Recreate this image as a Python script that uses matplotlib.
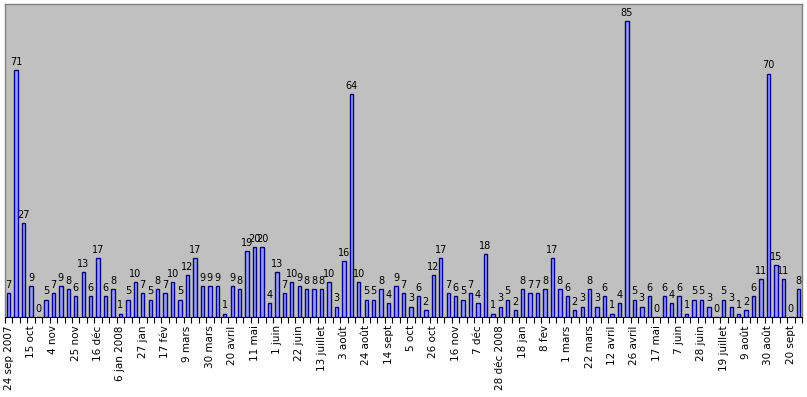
import numpy as np
import matplotlib
matplotlib.use('Agg')
import matplotlib.pyplot as plt

# weekly counts, 24 sep 2007 -> sept 2009
values = [7, 71, 27, 9, 0, 5, 7, 9, 8, 6, 13, 6, 17, 6, 8, 1, 5, 10, 7, 5,
          8, 7, 10, 5, 12, 17, 9, 9, 9, 1, 9, 8, 19, 20, 20, 4, 13, 7, 10, 9,
          8, 8, 8, 10, 3, 16, 64, 10, 5, 5, 8, 4, 9, 7, 3, 6, 2, 12, 17, 7,
          6, 5, 7, 4, 18, 1, 3, 5, 2, 8, 7, 7, 8, 17, 8, 6, 2, 3, 8, 3,
          6, 1, 4, 85, 5, 3, 6, 0, 6, 4, 6, 1, 5, 5, 3, 0, 5, 3, 1, 2,
          6, 11, 70, 15, 11, 0, 8]

# one label every third week
tick_labels = ['24 sep 2007', '15 oct', '4 nov', '25 nov', '16 déc', '6 jan 2008',
               '27 jan', '17 fév', '9 mars', '30 mars', '20 avril', '11 mai',
               '1 juin', '22 juin', '13 juillet', '3 août', '24 août', '14 sept',
               '5 oct', '26 oct', '16 nov', '7 déc', '28 déc 2008', '18 jan',
               '8 fev', '1 mars', '22 mars', '12 avril', '26 avril', '17 mai',
               '7 juin', '28 juin', '19 juillet', '9 août', '30 août', '20 sept']

x = np.arange(len(values))

fig = plt.figure(figsize=(8.07, 3.97), dpi=100)
ax = fig.add_axes([5 / 807, 80 / 397, 797 / 807, 313 / 397])
ax.set_facecolor('#C0C0C0')

ax.bar(x, values, width=0.45, color='#9999FF', edgecolor='#000080', linewidth=1.0)
for xi, v in zip(x, values):
    ax.text(xi, v + 0.9, str(v), ha='center', va='bottom', fontsize=7, color='black')

ax.set_xlim(-0.5, len(values) - 0.5)
ax.set_ylim(0, 90)
ax.set_yticks([])

# tick marks on category boundaries, labels on every third category
ax.set_xticks(np.arange(-0.5, len(values), 1.0))
ax.set_xticklabels([])
ax.tick_params(axis='x', which='major', length=4, width=0.8, direction='out', color='black')
ax.set_xticks(x[::3], minor=True)
ax.set_xticklabels(tick_labels, minor=True, rotation=90, fontsize=7.5)
ax.tick_params(axis='x', which='minor', length=0, pad=6)

for side in ['left', 'top', 'right']:
    ax.spines[side].set_color('#808080')
    ax.spines[side].set_linewidth(1.0)
ax.spines['bottom'].set_color('black')

fig.savefig('out.png', dpi=100)
